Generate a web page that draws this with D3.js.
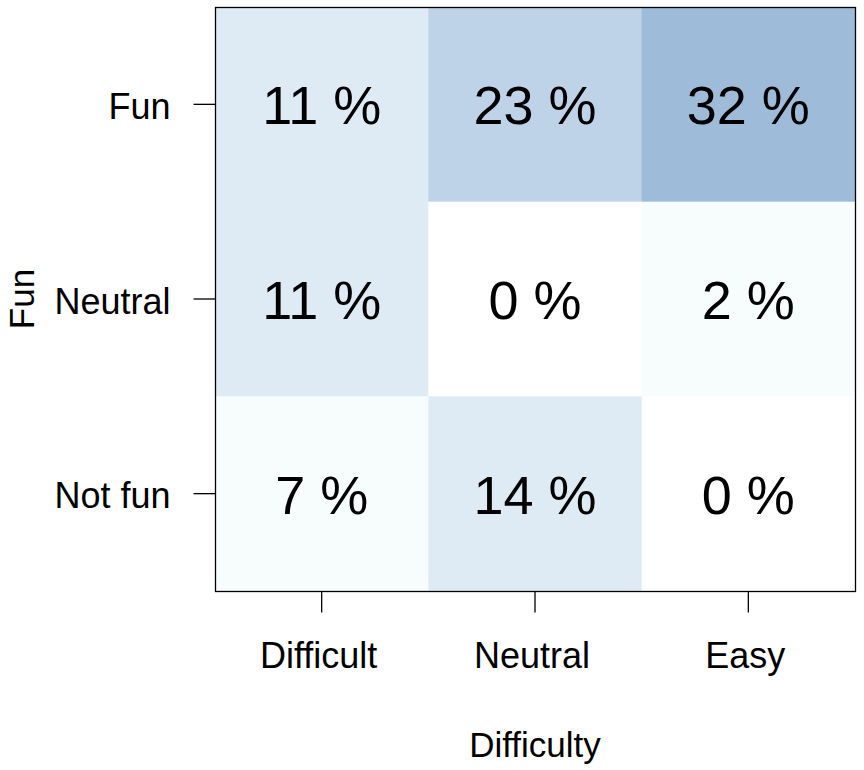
<!DOCTYPE html>
<html>
<head>
<meta charset="utf-8">
<script src="https://cdn.jsdelivr.net/npm/d3@7"></script>
<style>
  body { margin: 0; background: #fff; }
  text { font-family: "Liberation Sans", Arial, sans-serif; fill: #000; }
</style>
</head>
<body>
<div id="chart"></div>
<script>
// difficulty (columns) x fun (rows), share of answers in %
const difficulty = ["Difficult", "Neutral", "Easy"];
const fun = ["Fun", "Neutral", "Not fun"];
const percents = [
  [11, 23, 32],   // Fun
  [11, 0, 2],     // Neutral
  [7, 14, 0]      // Not fun
];

const width = 864, height = 770;
const margin = { top: 7, right: 9, bottom: 179, left: 215 };

const svg = d3.select("#chart").append("svg")
  .attr("width", width)
  .attr("height", height);

const x = d3.scaleBand().domain(difficulty).range([margin.left, width - margin.right]);
const y = d3.scaleBand().domain(fun).range([margin.top, height - margin.bottom]);

const color = d3.scaleThreshold()
  .domain([1, 10, 18, 28])
  .range(["#ffffff", "#f7fcfd", "#deebf5", "#bed3e7", "#9ebbd9"]);

const cells = [];
fun.forEach((f, i) => difficulty.forEach((d, j) => cells.push({ f, d, v: percents[i][j] })));

svg.selectAll("rect.cell")
  .data(cells)
  .enter().append("rect")
  .attr("class", "cell")
  .attr("x", c => x(c.d))
  .attr("y", c => y(c.f))
  .attr("width", x.bandwidth() + 0.5)
  .attr("height", y.bandwidth() + 0.5)
  .attr("fill", c => color(c.v));

svg.selectAll("text.val")
  .data(cells)
  .enter().append("text")
  .attr("class", "val")
  .attr("x", c => x(c.d) + x.bandwidth() / 2)
  .attr("y", c => y(c.f) + y.bandwidth() / 2 + 20)
  .attr("text-anchor", "middle")
  .style("font-size", "54px")
  .text(c => c.v + " %");

// box
svg.append("rect")
  .attr("x", margin.left + 0.5)
  .attr("y", margin.top + 0.5)
  .attr("width", width - margin.left - margin.right)
  .attr("height", height - margin.top - margin.bottom)
  .attr("fill", "none")
  .attr("stroke", "#000")
  .attr("stroke-width", 1.3);

// axes
const xAxis = d3.axisBottom(x).tickSize(21).tickPadding(30);
const gx = svg.append("g")
  .attr("transform", `translate(0,${height - margin.bottom + 0.5})`)
  .call(xAxis);
gx.select(".domain").remove();
gx.selectAll("line").attr("stroke-width", 1.3);
gx.selectAll("text").style("font-size", "36px").attr("fill", "#000").attr("x", -3);

const yAxis = d3.axisLeft(y).tickSize(22).tickPadding(23);
const gy = svg.append("g")
  .attr("transform", `translate(${margin.left + 0.5},0)`)
  .call(yAxis);
gy.select(".domain").remove();
gy.selectAll("line").attr("stroke-width", 1.3);
gy.selectAll("text").style("font-size", "36px").attr("fill", "#000").attr("y", 3);

svg.append("text")
  .attr("x", (margin.left + width - margin.right) / 2)
  .attr("y", 757)
  .attr("text-anchor", "middle")
  .style("font-size", "35px")
  .text("Difficulty");

svg.append("text")
  .attr("transform", `translate(34,${(margin.top + height - margin.bottom) / 2}) rotate(-90)`)
  .attr("text-anchor", "middle")
  .style("font-size", "35px")
  .text("Fun");
</script>
</body>
</html>
